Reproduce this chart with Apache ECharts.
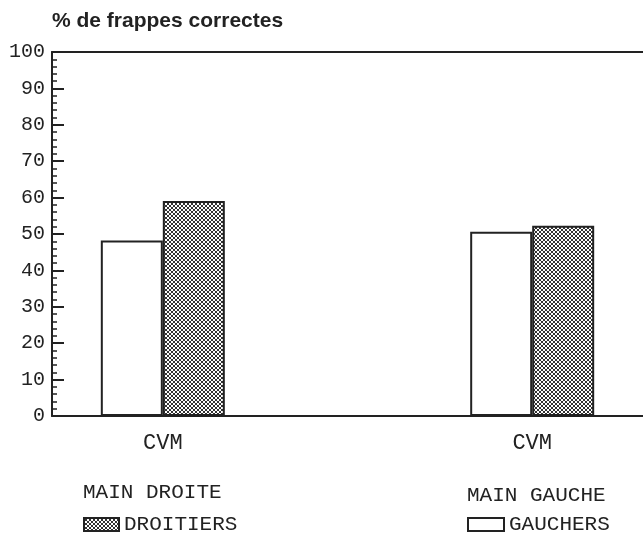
<!DOCTYPE html>
<html>
<head>
<meta charset="utf-8">
<script src="https://cdn.jsdelivr.net/npm/echarts@6/dist/echarts.min.js"></script>
<style>
  html, body { margin: 0; padding: 0; background: #fff; }
  #chart { width: 643px; height: 533px; }
</style>
</head>
<body>
<div id="chart"></div>
<script>
// categories: blanks keep the two groups where they sit in the original
var categories = ['', 'CVM', '', '', '', '', 'CVM', ''];
var groupNames = ['MAIN DROITE', 'MAIN GAUCHE'];
var gauchers = [null, 48.2, null, null, null, null, 50.6, null];
var droitiers = [null, 59.1, null, null, null, null, 52.3, null];
var yTicks = [0, 100, 10];

var mono = 'Liberation Mono';

// motif quadrille en diagonale pour les droitiers
function hatch() {
  var c = document.createElement('canvas');
  c.width = 4; c.height = 4;
  var g = c.getContext('2d');
  g.fillStyle = '#ffffff';
  g.fillRect(0, 0, 4, 4);
  g.fillStyle = '#333333';
  for (var i = 0; i < 4; i++) {
    g.fillRect(i, i, 1, 1);
    g.fillRect(3 - i, i, 1, 1);
  }
  return c;
}

var chart = echarts.init(document.getElementById('chart'));

var option = {
  animation: false,
  title: {
    text: '% de frappes correctes',
    left: 47, top: 6,
    textStyle: { fontFamily: 'Liberation Sans', fontWeight: 'bold', fontSize: 21, color: '#222' }
  },
  grid: { left: 52, top: 52, right: -2, bottom: 117 },
  legend: [{
    data: ['DROITIERS'],
    left: 78, top: 509,
    icon: 'rect',
    itemWidth: 35, itemHeight: 13,
    textStyle: { fontFamily: mono, fontSize: 21, color: '#222' }
  }, {
    data: ['GAUCHERS'],
    left: 462, top: 509,
    icon: 'rect',
    itemWidth: 36, itemHeight: 13,
    textStyle: { fontFamily: mono, fontSize: 21, color: '#222' }
  }],
  graphic: [{
    type: 'text', left: 83, top: 482,
    style: { text: groupNames[0], font: '21px "Liberation Mono"', fill: '#222' }
  }, {
    type: 'text', left: 467, top: 485,
    style: { text: groupNames[1], font: '21px "Liberation Mono"', fill: '#222' }
  }],
  xAxis: [{
    type: 'category',
    data: categories,
    axisLine: { lineStyle: { color: '#222', width: 2 } },
    axisTick: { show: false },
    axisLabel: { interval: 0, margin: 16, fontFamily: mono, fontSize: 22, color: '#222' }
  }, {
    type: 'category',
    position: 'top',
    data: categories,
    axisLine: { lineStyle: { color: '#222', width: 2 } },
    axisTick: { show: false },
    axisLabel: { show: false }
  }],
  yAxis: {
    type: 'value',
    min: yTicks[0], max: yTicks[1], interval: yTicks[2],
    axisLine: { show: true, lineStyle: { color: '#222', width: 2 } },
    axisTick: { show: true, inside: true, length: 12, lineStyle: { color: '#222', width: 2 } },
    minorTick: { show: true, splitNumber: 5, length: 5, lineStyle: { color: '#222', width: 1.5 } },
    splitLine: { show: false },
    axisLabel: { margin: 7, fontFamily: mono, fontSize: 20, color: '#222' }
  },
  series: [{
    name: 'GAUCHERS',
    type: 'bar',
    data: gauchers,
    barWidth: 62,
    barGap: '0%',
    itemStyle: { color: '#fff', borderColor: '#222', borderWidth: 2 }
  }, {
    name: 'DROITIERS',
    type: 'bar',
    data: droitiers,
    barWidth: 62,
    barGap: '0%',
    itemStyle: { color: { image: hatch(), repeat: 'repeat' }, borderColor: '#222', borderWidth: 2 }
  }]
};

chart.setOption(option);
</script>
</body>
</html>
